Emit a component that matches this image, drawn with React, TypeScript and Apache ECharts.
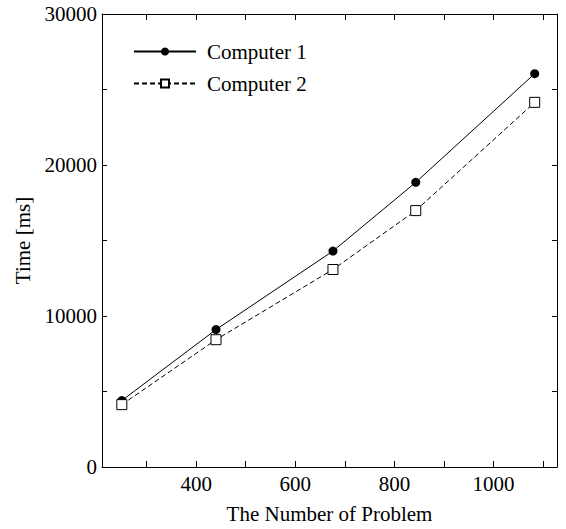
import React, { useEffect, useRef } from "react";
import * as echarts from "echarts";

const problems = [250, 440, 676, 843, 1083];
const computer1 = [4400, 9100, 14300, 18850, 26050];
const computer2 = [4130, 8430, 13080, 16980, 24150];
const seriesNames = ["Computer 1", "Computer 2"];
const xTicks = [300, 400, 500, 600, 700, 800, 900, 1000, 1100];
const xLabels = [400, 600, 800, 1000];
const yTicks = [0, 5000, 10000, 15000, 20000, 25000, 30000];
const yLabels = [0, 10000, 20000, 30000];

const FONT = "Liberation Serif";
const DASH = [5, 3];

export default function App() {
  const ref = useRef<HTMLDivElement>(null);
  useEffect(() => {
    if (!ref.current) return;
    const chart = echarts.init(ref.current, null, { renderer: "svg" });
    const xBase = {
      type: "value" as const,
      min: 210,
      max: 1128,
      axisLine: { show: true, onZero: false, lineStyle: { color: "#000", width: 1 } },
      axisTick: { show: true, inside: true, length: 6, customValues: xTicks, lineStyle: { color: "#000" } },
      splitLine: { show: false },
    };
    const yBase = {
      type: "value" as const,
      min: 0,
      max: 30000,
      axisLine: { show: true, onZero: false, lineStyle: { color: "#000", width: 1 } },
      axisTick: { show: true, inside: true, length: 5, customValues: yTicks, lineStyle: { color: "#000" } },
      splitLine: { show: false },
    };
    chart.setOption({
      animation: false,
      backgroundColor: "#fff",
      grid: { left: 102, right: 9, top: 14, bottom: 59, containLabel: false },
      legend: {
        data: [
          { name: seriesNames[0] },
          { name: seriesNames[1], lineStyle: { type: DASH } },
        ],
        orient: "vertical",
        left: 128,
        top: 36,
        itemWidth: 62,
        itemHeight: 10,
        itemGap: 11,
        textStyle: { fontFamily: FONT, fontSize: 21, color: "#000", padding: [0, 0, 0, 6] },
      },
      xAxis: [
        {
          ...xBase,
          position: "bottom",
          name: "The Number of Problem",
          nameLocation: "middle",
          nameGap: 36,
          nameTextStyle: { fontFamily: FONT, fontSize: 21, color: "#000" },
          axisLabel: {
            fontFamily: FONT,
            fontSize: 21,
            color: "#000",
            margin: 6,
            customValues: xLabels,
            formatter: (v: number) => String(v),
          },
        },
        { ...xBase, position: "top", axisLabel: { show: false } },
      ],
      yAxis: [
        {
          ...yBase,
          position: "left",
          name: "Time [ms]",
          nameLocation: "middle",
          nameGap: 63,
          nameTextStyle: { fontFamily: FONT, fontSize: 21, color: "#000" },
          axisLabel: {
            fontFamily: FONT,
            fontSize: 21,
            color: "#000",
            margin: 5,
            customValues: yLabels,
            formatter: (v: number) => String(v),
          },
        },
        { ...yBase, position: "right", axisLabel: { show: false } },
      ],
      series: [
        {
          name: seriesNames[0],
          type: "line",
          data: problems.map((p, i) => [p, computer1[i]]),
          symbol: "circle",
          symbolSize: 9,
          itemStyle: { color: "#000", borderColor: "#000", borderWidth: 0 },
          lineStyle: { color: "#000", width: 1, type: "solid" },
        },
        {
          name: seriesNames[1],
          type: "line",
          data: problems.map((p, i) => [p, computer2[i]]),
          symbol: "rect",
          symbolSize: 10,
          itemStyle: { color: "#fff", borderColor: "#000", borderWidth: 1 },
          lineStyle: { color: "#000", width: 1, type: DASH },
        },
      ],
    });
    return () => chart.dispose();
  }, []);
  return (
    <div
      ref={ref}
      style={{ position: "absolute", left: 0, top: 0, width: 566, height: 529 }}
    />
  );
}
